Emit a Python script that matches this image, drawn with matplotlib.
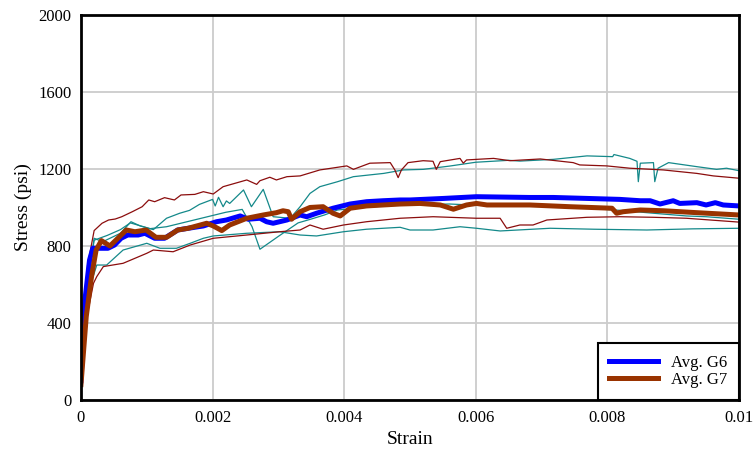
import matplotlib.pyplot as plt
import numpy as np

plt.rcParams['font.family'] = ['Liberation Serif', 'DejaVu Serif']

# G6 specimens (teal)
g6_1_x = [0, 0.00012, 0.0002, 0.00033, 0.0006, 0.00076, 0.0009, 0.0011, 0.0013, 0.0015, 0.00165, 0.0018,
          0.002, 0.00204, 0.00209, 0.00216, 0.00221, 0.00226, 0.00247, 0.00259, 0.00277, 0.00292, 0.00318,
          0.00333, 0.00348, 0.00363, 0.0039, 0.00414, 0.0046, 0.0049, 0.0052, 0.0056, 0.006, 0.0065, 0.00667,
          0.00718, 0.00769, 0.00808, 0.0081, 0.00834, 0.00845, 0.00847, 0.0085, 0.0087, 0.00872, 0.00877,
          0.00893, 0.00936, 0.00966, 0.00981, 0.01]
g6_1_y = [80, 650, 840, 822, 866, 926, 904, 885, 944, 970, 985, 1016,
          1042, 1008, 1053, 1004, 1034, 1021, 1091, 1004, 1094, 952, 944,
          1004, 1073, 1108, 1134, 1160, 1177, 1195, 1198, 1215, 1235, 1245, 1241,
          1250, 1268, 1264, 1275, 1255, 1240, 1134, 1230, 1233, 1134, 1204,
          1233, 1212, 1198, 1204, 1191]

g6_2_x = [0, 0.0001, 0.0002, 0.0004, 0.0006, 0.00075, 0.0009, 0.00105, 0.0013, 0.0016, 0.0019, 0.0022,
          0.00245, 0.0026, 0.00272, 0.003, 0.0033, 0.0035, 0.0037, 0.0039, 0.0043, 0.0047, 0.0052,
          0.0056, 0.006, 0.0065, 0.007, 0.0075, 0.0082, 0.0087, 0.0092, 0.0095, 0.01]
g6_2_y = [80, 600, 830, 855, 885, 920, 905, 890, 900, 925, 950, 975,
          990, 900, 783, 850, 920, 940, 961, 987, 1000, 1010, 1015,
          1018, 1012, 1010, 1015, 1000, 985, 970, 956, 952, 939]

g6_3_x = [0, 0.0001, 0.00024, 0.00039, 0.00064, 0.001, 0.0012, 0.00145, 0.00166, 0.00186, 0.00201,
          0.00252, 0.00302, 0.00333, 0.00358, 0.00399, 0.00434, 0.00485, 0.005, 0.00535, 0.00576,
          0.00601, 0.00637, 0.00713, 0.0078, 0.0086, 0.0093, 0.01]
g6_3_y = [80, 550, 701, 701, 779, 814, 788, 788, 814, 840, 852,
          866, 874, 857, 852, 874, 887, 897, 883, 883, 900,
          892, 878, 892, 887, 883, 889, 892]

# G7 specimens (dark red)
g7_1_x = [0, 0.0001, 0.0002, 0.00032, 0.00042, 0.00052, 0.00062, 0.00078, 0.00093, 0.00103, 0.00112,
          0.00127, 0.00142, 0.00152, 0.00173, 0.00186, 0.00201, 0.00216, 0.00252, 0.00267, 0.00272,
          0.00287, 0.00297, 0.00313, 0.00333, 0.00363, 0.00404, 0.00414, 0.00439, 0.0047, 0.00477,
          0.00482, 0.00487, 0.00497, 0.0052, 0.00535, 0.0054, 0.00546, 0.00576, 0.00581, 0.00586,
          0.00627, 0.00652, 0.00698, 0.00748, 0.00758, 0.00799, 0.00834, 0.00885, 0.00936, 0.00961, 0.01]
g7_1_y = [80, 700, 880, 918, 935, 940, 952, 978, 1004, 1039, 1030,
          1051, 1039, 1065, 1068, 1082, 1070, 1108, 1143, 1120, 1139,
          1157, 1143, 1160, 1164, 1195, 1216, 1198, 1230, 1233, 1195,
          1155, 1195, 1233, 1243, 1240, 1198, 1238, 1255, 1230, 1247,
          1255, 1243, 1252, 1233, 1221, 1216, 1204, 1195, 1177, 1164, 1152]

g7_2_x = [0, 0.0001, 0.00019, 0.00024, 0.00034, 0.00064, 0.001, 0.0011, 0.0014, 0.00166, 0.00201,
          0.00252, 0.00302, 0.00333, 0.00348, 0.00368, 0.00399, 0.00434, 0.00485, 0.00535, 0.00601,
          0.00637, 0.00647, 0.00667, 0.00687, 0.00708, 0.00769, 0.00819, 0.0087, 0.0092, 0.01]
g7_2_y = [80, 450, 606, 641, 693, 710, 762, 779, 770, 805, 840,
          857, 874, 883, 909, 887, 909, 926, 944, 952, 944,
          944, 892, 909, 909, 935, 949, 952, 949, 944, 924]

# averages
avg_g6_x = [0, 0.00006, 0.00013, 0.00018, 0.00026, 0.00041, 0.00051, 0.00061, 0.00071, 0.00087, 0.00097,
            0.00112, 0.00127, 0.00147, 0.00163, 0.00186, 0.00206, 0.00221, 0.00242, 0.00254, 0.00272,
            0.00282, 0.00292, 0.00313, 0.00333, 0.00343, 0.00358, 0.00383, 0.00409, 0.00434, 0.00459,
            0.00485, 0.005, 0.00551, 0.00601, 0.00682, 0.00718, 0.00769, 0.00819, 0.0085, 0.00865,
            0.0088, 0.009, 0.0091, 0.00936, 0.0095, 0.00964, 0.00976, 0.01]
avg_g6_y = [100, 520, 727, 788, 788, 788, 805, 840, 857, 857, 866,
            840, 840, 883, 892, 904, 926, 935, 956, 939, 944,
            926, 918, 935, 961, 952, 970, 996, 1018, 1030, 1035,
            1039, 1039, 1047, 1056, 1052, 1052, 1047, 1042, 1035, 1035,
            1018, 1035, 1021, 1025, 1013, 1025, 1013, 1008]

avg_g7_x = [0, 0.00008, 0.00016, 0.00023, 0.00031, 0.00044, 0.00056, 0.00069, 0.00082, 0.00099, 0.00114,
            0.0013, 0.00147, 0.00163, 0.00191, 0.00201, 0.00214, 0.00226, 0.00252, 0.00277, 0.00297,
            0.00307, 0.00315, 0.0032, 0.00333, 0.00348, 0.00368, 0.00383, 0.00394, 0.00409, 0.00434,
            0.00459, 0.00485, 0.00515, 0.00546, 0.00566, 0.00586, 0.00601, 0.00617, 0.00682, 0.00743,
            0.00807, 0.00814, 0.00824, 0.0085, 0.00885, 0.00936, 0.01]
avg_g7_y = [80, 433, 641, 779, 828, 800, 840, 883, 874, 883, 845,
            845, 883, 892, 918, 904, 880, 909, 944, 961, 973,
            983, 978, 939, 978, 1000, 1004, 970, 956, 996, 1008,
            1013, 1018, 1021, 1013, 991, 1013, 1021, 1013, 1013, 1004,
            996, 970, 978, 987, 983, 973, 961]

teal = '#14898a'
darkred = '#8b0d0d'

fig = plt.figure(figsize=(7.54, 4.54), dpi=100)
ax = fig.add_axes([0.1074, 0.119, 0.8727, 0.848])

for xs, ys in [(g6_1_x, g6_1_y), (g6_2_x, g6_2_y), (g6_3_x, g6_3_y)]:
    ax.plot(xs, ys, color=teal, lw=0.9)
for xs, ys in [(g7_1_x, g7_1_y), (g7_2_x, g7_2_y)]:
    ax.plot(xs, ys, color=darkred, lw=0.9)

ax.plot(avg_g6_x, avg_g6_y, color='#0000ff', lw=3.6, label='Avg. G6')
ax.plot(avg_g7_x, avg_g7_y, color='#993300', lw=3.6, label='Avg. G7')

ax.set_xlim(0, 0.01)
ax.set_ylim(0, 2000)
ax.set_xticks([0, 0.002, 0.004, 0.006, 0.008, 0.01])
ax.set_xticklabels(['0', '0.002', '0.004', '0.006', '0.008', '0.01'])
ax.set_yticks([0, 400, 800, 1200, 1600, 2000])
ax.tick_params(length=0, labelsize=12, pad=7)
ax.grid(True, color='#cccccc', lw=1.3)
ax.set_axisbelow(True)
for s in ax.spines.values():
    s.set_linewidth(2)
    s.set_color('black')

ax.set_xlabel('Strain', fontsize=14, labelpad=4)
ax.set_ylabel('Stress (psi)', fontsize=14, labelpad=4)

leg = ax.legend(loc='lower right', borderaxespad=0, fancybox=False, fontsize=12,
                handlelength=2.9, labelspacing=0.1, borderpad=0.7)
leg.get_frame().set_edgecolor('black')
leg.get_frame().set_linewidth(1.5)
leg.get_frame().set_alpha(1)

plt.savefig('out.png', dpi=100)
